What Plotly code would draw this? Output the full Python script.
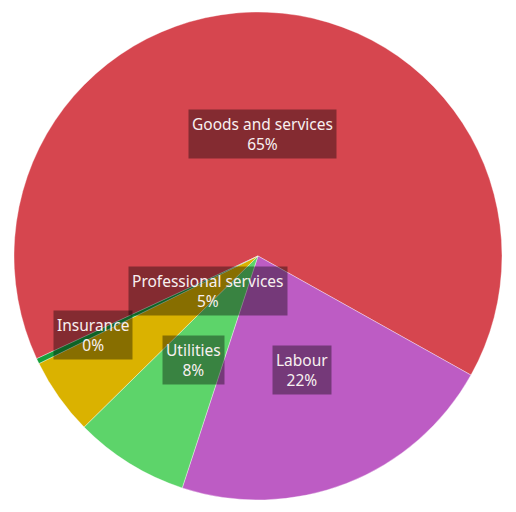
import math
import plotly.graph_objects as go

labels = ["Goods and services", "Labour", "Utilities", "Professional services", "Insurance"]
values = [65.0, 21.9, 7.6, 5.1, 0.35]
colors = ["#d6464f", "#bd5cc4", "#5dd46a", "#dab200", "#16a03c"]
label_radius = [0.5, 0.5, 0.5, 0.25, 0.75]

W, H = 516, 512
MT, MB = 12, 12
rotation = 245.1

fig = go.Figure(go.Pie(
    labels=labels, values=values, sort=False, direction="clockwise",
    rotation=rotation, textinfo="none", hoverinfo="skip",
    marker=dict(colors=colors, line=dict(color="rgba(255,255,255,0.6)", width=0.6)),
    showlegend=False,
))

total = sum(values)
cum = 0.0
pw, ph = W, H - MT - MB
R = min(pw, ph) / 2
for lab, v, rf in zip(labels, values, label_radius):
    mid = cum + v / 2
    cum += v
    ang = math.radians(90 - rotation - 360 * mid / total)
    x = 0.5 + rf * R * math.cos(ang) / pw
    y = 0.5 + rf * R * math.sin(ang) / ph
    pct = round(100 * v / total)
    fig.add_annotation(
        x=x, y=y, xref="paper", yref="paper", showarrow=False,
        xanchor="center", yanchor="middle",
        text=f"{lab}<br>{pct}%", align="center",
        font=dict(family="Noto Sans", size=15.5, color="#f8f0f0"),
        bgcolor="rgba(0,0,0,0.38)", borderpad=3,
    )

fig.update_layout(
    width=W, height=H, margin=dict(l=0, r=0, t=MT, b=MB),
    paper_bgcolor="white", plot_bgcolor="white",
)
fig.write_html("out.html")
